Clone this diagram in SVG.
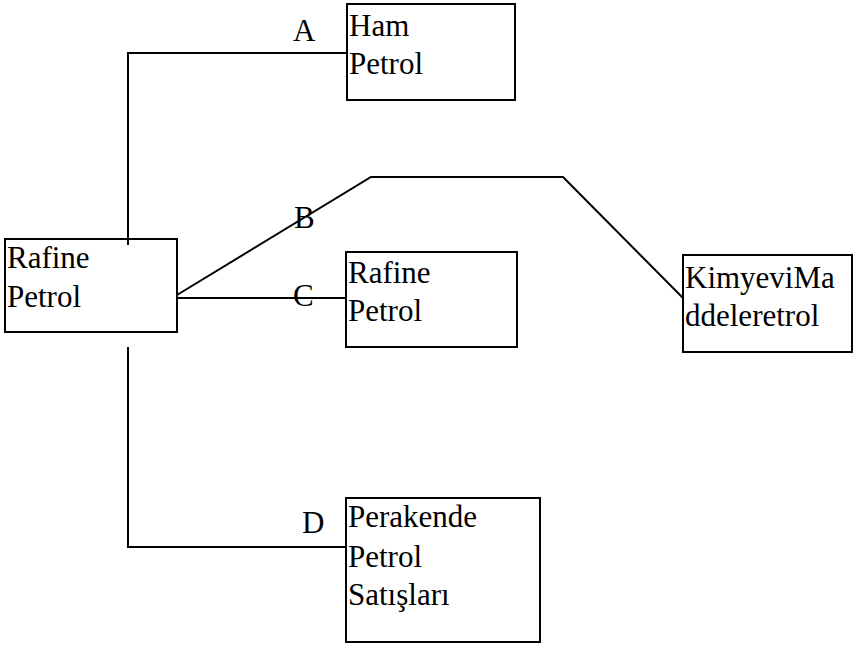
<svg xmlns="http://www.w3.org/2000/svg" width="855" height="647" viewBox="0 0 855 647">
<style>
.box{fill:none;stroke:#000;stroke-width:2}
.conn{fill:none;stroke:#000;stroke-width:2}
</style>
<rect width="855" height="647" fill="#fff"/>
<g font-family="'Liberation Serif', serif" font-size="31" fill="#000">
<g id="connectors">
<polyline class="conn" points="347,53 128,53 128,245"/>
<polyline class="conn" points="177,295 371,177 563,177 683,298"/>
<line class="conn" x1="177" y1="298" x2="346" y2="298"/>
<polyline class="conn" points="128,347 128,547 346,547"/>
<text x="293" y="41">A</text>
<text x="294" y="228">B</text>
<text x="293" y="306">C</text>
<text x="302" y="533">D</text>
</g>
<g id="ham-petrol">
<rect class="box" x="347" y="4" width="168" height="96"/>
<text x="349" y="36">Ham</text>
<text x="349" y="74">Petrol</text>
</g>
<g id="rafine-petrol-left">
<rect class="box" x="5" y="239" width="172" height="93"/>
<text x="7" y="268">Rafine</text>
<text x="7" y="307">Petrol</text>
</g>
<g id="rafine-petrol-right">
<rect class="box" x="346" y="252" width="171" height="95"/>
<text x="348" y="283">Rafine</text>
<text x="348" y="321">Petrol</text>
</g>
<g id="kimyevi">
<rect class="box" x="683" y="255" width="169" height="97"/>
<text x="685" y="288">KimyeviMa</text>
<text x="685" y="326">ddeleretrol</text>
</g>
<g id="perakende">
<rect class="box" x="346" y="498" width="194" height="144"/>
<text x="348" y="527">Perakende</text>
<text x="348" y="567">Petrol</text>
<text x="348" y="605">Satışları</text>
</g>
</g>
</svg>
